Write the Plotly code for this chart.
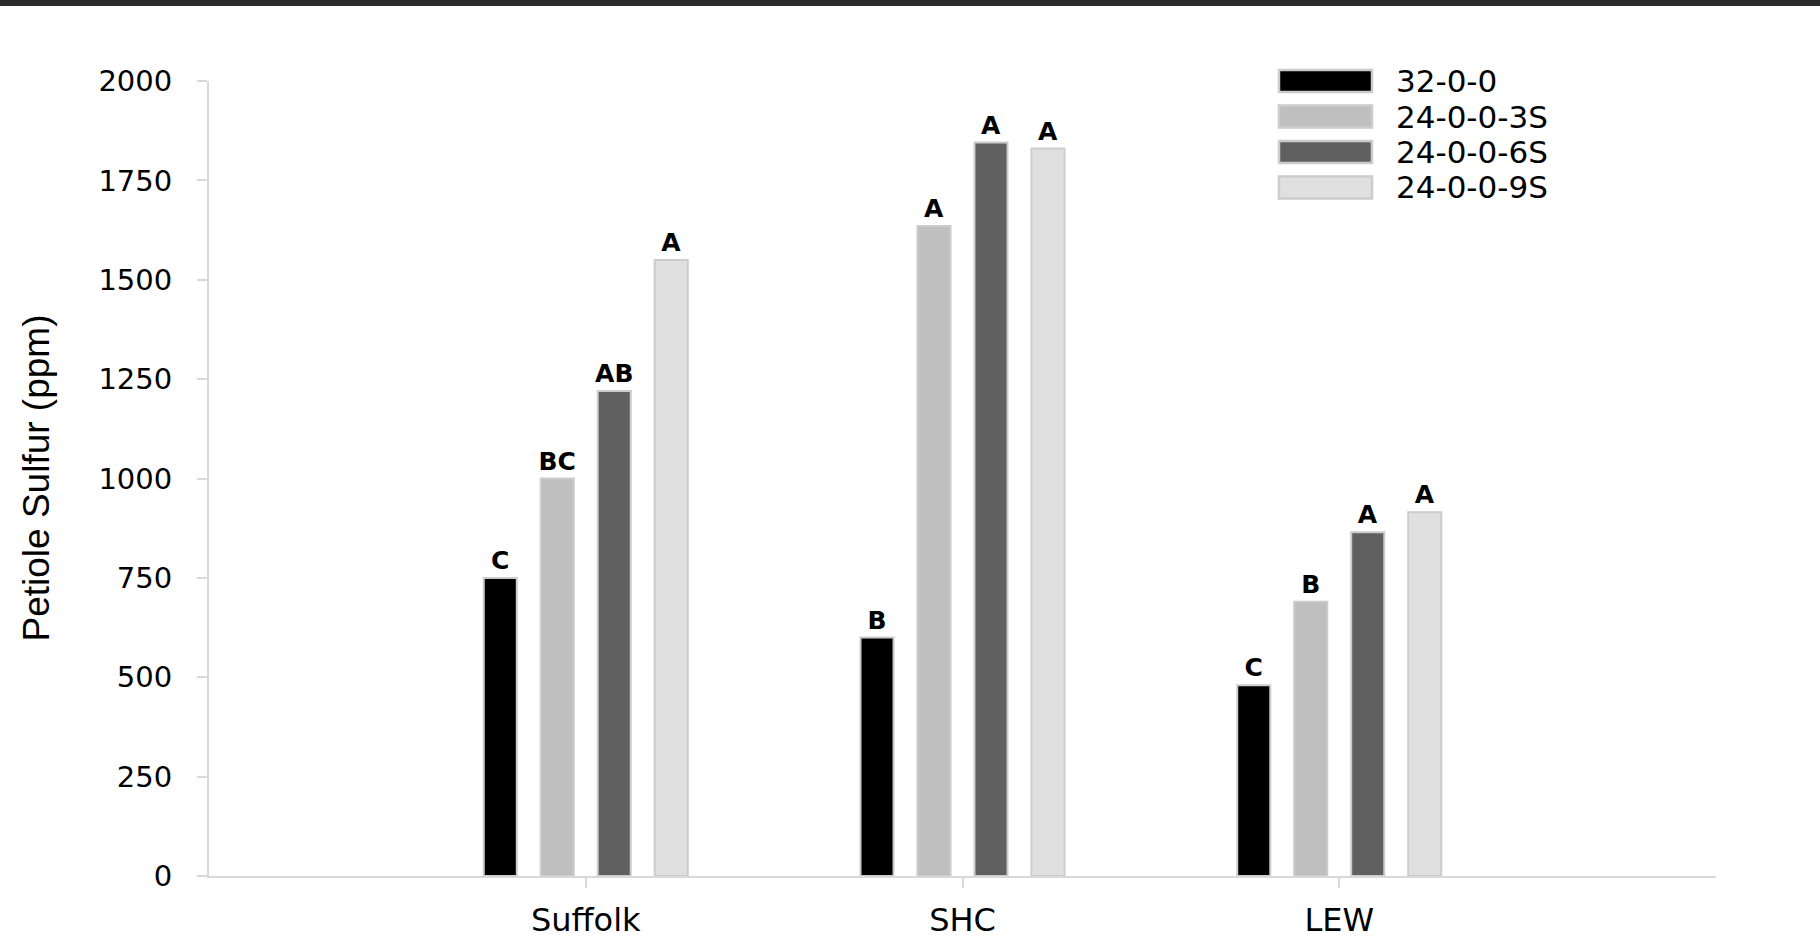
import plotly.graph_objects as go

# ---- data ----
sites = ["Suffolk", "SHC", "LEW"]
series_names = ["32-0-0", "24-0-0-3S", "24-0-0-6S", "24-0-0-9S"]
v_32_0_0 = [750, 600, 480]
v_3S = [1000, 1635, 690]
v_6S = [1220, 1845, 865]
v_9S = [1550, 1830, 915]
letters_32_0_0 = ["C", "B", "C"]
letters_3S = ["BC", "A", "B"]
letters_6S = ["AB", "A", "A"]
letters_9S = ["A", "A", "A"]
y_ticks = [0, 250, 500, 750, 1000, 1250, 1500, 1750, 2000]

values = [v_32_0_0, v_3S, v_6S, v_9S]
letters = [letters_32_0_0, letters_3S, letters_6S, letters_9S]
colors = ["#000000", "#bfbfbf", "#606060", "#e0e0e0"]

W, H = 1820, 950
L, R, T, B = 209, 1716, 81, 876
FONT = "DejaVu Sans, Liberation Sans, Arial, sans-serif"
TFONT = "Liberation Sans, Arial, sans-serif"

def px_x(p):
    return (p - L) / (R - L)

def px_y(p):
    return (B - p) / (B - T)

fig = go.Figure()
for name, vals, labs, col in zip(series_names, values, letters, colors):
    fig.add_trace(go.Bar(
        x=sites, y=vals, name=name,
        marker=dict(color=col, line=dict(color="#cccccc", width=2)),
        text=labs, textposition="outside", constraintext="none",
        textfont=dict(family=FONT, size=25, color="#000000", weight="bold"),
        cliponaxis=False, showlegend=False,
    ))

shapes = []
annotations = []
# dark band at the top of the page
shapes.append(dict(type="rect", xref="paper", yref="paper",
                   x0=px_x(0), x1=px_x(W), y0=px_y(6), y1=px_y(0),
                   fillcolor="#2b2b2b", line=dict(width=0), layer="above"))

# custom legend with wide swatches
row_y = [81, 116.5, 152, 187.5]
for name, col, yc in zip(series_names, colors, row_y):
    shapes.append(dict(type="rect", xref="paper", yref="paper",
                       x0=px_x(1279), x1=px_x(1372), y0=px_y(yc + 11), y1=px_y(yc - 11),
                       fillcolor=col, line=dict(color="#cccccc", width=2.5)))
    annotations.append(dict(xref="paper", yref="paper", x=px_x(1394), y=px_y(yc),
                            text=name, showarrow=False, xanchor="left", yanchor="middle",
                            font=dict(family=FONT, size=31, color="#000000")))

annotations.append(dict(xref="paper", yref="paper", x=px_x(36), y=0.5,
                        text="Petiole Sulfur (ppm)", textangle=-90, showarrow=False,
                        xanchor="center", yanchor="middle",
                        font=dict(family=TFONT, size=37, color="#000000")))

fig.update_layout(
    width=W, height=H,
    margin=dict(l=L, r=W - R, t=T, b=H - B, pad=0),
    paper_bgcolor="white", plot_bgcolor="white",
    barmode="group", bargap=0.395, bargroupgap=0.42,
    shapes=shapes, annotations=annotations,
    showlegend=False,
    font=dict(family=FONT, color="#000000"),
)
fig.update_xaxes(
    range=[-1, 3], showgrid=False, zeroline=False,
    showline=True, linecolor="#d9d9d9", linewidth=2,
    ticks="outside", ticklen=10, tickwidth=2, tickcolor="#d9d9d9",
    tickfont=dict(family=FONT, size=32, color="#000000"),
    ticklabelstandoff=5,
)
fig.update_yaxes(
    range=[0, 2000], tickvals=y_ticks, ticktext=[str(t) for t in y_ticks],
    showgrid=False, zeroline=False,
    showline=True, linecolor="#d9d9d9", linewidth=2,
    ticks="outside", ticklen=10, tickwidth=1.5, tickcolor="#d9d9d9",
    tickfont=dict(family=FONT, size=29, color="#000000"),
    ticklabelstandoff=19,
)

fig.write_html("out.html")
